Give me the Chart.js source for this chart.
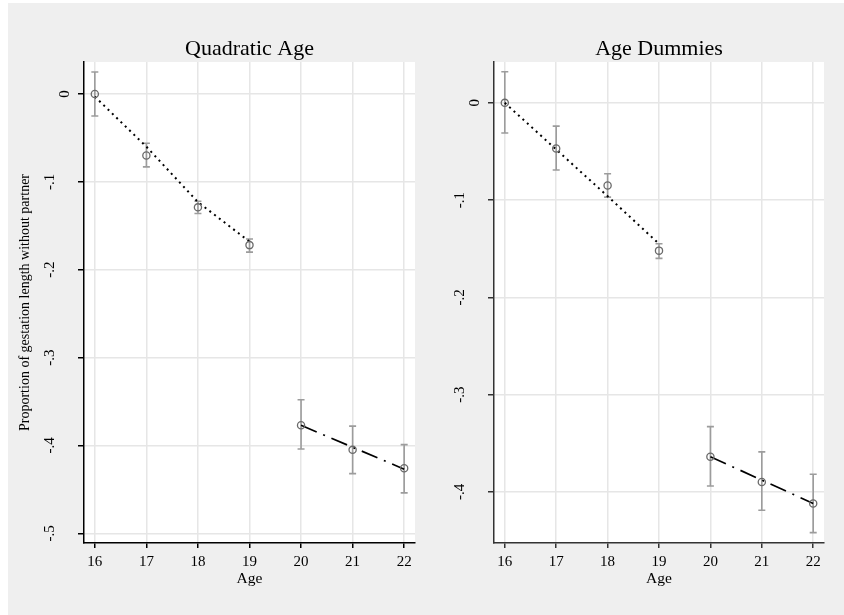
<!DOCTYPE html>
<html>
<head>
<meta charset="utf-8">
<script src="https://cdn.jsdelivr.net/npm/chart.js@4.4.1/dist/chart.umd.min.js"></script>
<style>
  html, body { margin: 0; padding: 0; background: #fff; }
  #frame { position: absolute; left: 8px; top: 3px; width: 836px; height: 612px; background: #efefef; }
  canvas { position: absolute; top: 0; }
  #left { left: 0; }
  #right { left: 414px; }
</style>
</head>
<body>
<div id="frame">
  <canvas id="left" width="414" height="612"></canvas>
  <canvas id="right" width="422" height="612"></canvas>
</div>
<script>
// 年齡 (x 軸)
const ages = [16, 17, 18, 19, 20, 21, 22];
const agesBefore = [16, 17, 18, 19];
const agesAfter = [20, 21, 22];

// Quadratic Age: 估計值與信賴區間
const quadEst = [0, -0.070, -0.129, -0.172, -0.377, -0.405, -0.426];
const quadLo = [-0.025, -0.083, -0.136, -0.180, -0.404, -0.432, -0.454];
const quadHi = [0.025, -0.056, -0.122, -0.165, -0.348, -0.378, -0.399];
const quadFitBefore = [-0.003, -0.060, -0.123, -0.168];
const quadFitAfter = [-0.377, -0.402, -0.427];

// Age Dummies
const dumEst = [0, -0.047, -0.085, -0.152, -0.364, -0.390, -0.412];
const dumLo = [-0.031, -0.069, -0.097, -0.160, -0.394, -0.419, -0.442];
const dumHi = [0.032, -0.024, -0.073, -0.145, -0.333, -0.359, -0.382];
const dumFitBefore = [0, -0.048, -0.096, -0.145];
const dumFitAfter = [-0.364, -0.388, -0.412];

// 刻度
const quadYTicks = [0, -0.1, -0.2, -0.3, -0.4, -0.5];
const quadYLabels = ['0', '-.1', '-.2', '-.3', '-.4', '-.5'];
const dumYTicks = [0, -0.1, -0.2, -0.3, -0.4];
const dumYLabels = ['0', '-.1', '-.2', '-.3', '-.4'];
const xTicks = [16, 17, 18, 19, 20, 21, 22];

const FONT = "'Liberation Serif', 'Times New Roman', serif";

const toPoints = (xs, ys) => xs.map((x, i) => ({ x: x, y: ys[i] }));

// 誤差線
function makeErrorBars(lo, hi) {
    return {
        id: 'errorBars',
        beforeDatasetsDraw(chart) {
            const ctx = chart.ctx;
            const xs = chart.scales.x, ys = chart.scales.y;
            ctx.save();
            ctx.strokeStyle = '#9c9c9c';
            ctx.lineWidth = 1.6;
            lo.forEach((l, i) => {
                const px = xs.getPixelForValue(ages[i]);
                const y1 = ys.getPixelForValue(l);
                const y2 = ys.getPixelForValue(hi[i]);
                ctx.beginPath();
                ctx.moveTo(px, y1); ctx.lineTo(px, y2);
                ctx.moveTo(px - 3.5, y1); ctx.lineTo(px + 3.5, y1);
                ctx.moveTo(px - 3.5, y2); ctx.lineTo(px + 3.5, y2);
                ctx.stroke();
            });
            ctx.restore();
        }
    };
}

// 白色繪圖區、直立的 y 軸刻度文字、面板標題
function makeDecor(title, yTicks, yLabels) {
    return {
        id: 'decor',
        beforeDraw(chart) {
            const a = chart.chartArea;
            chart.ctx.save();
            chart.ctx.fillStyle = '#fff';
            chart.ctx.fillRect(a.left, a.top, a.right - a.left, a.bottom - a.top);
            chart.ctx.restore();
        },
        afterDraw(chart) {
            const ctx = chart.ctx;
            const area = chart.chartArea;
            const ys = chart.scales.y;
            ctx.save();
            ctx.fillStyle = '#000';
            ctx.font = '15px ' + FONT;
            ctx.textAlign = 'center';
            ctx.textBaseline = 'middle';
            yTicks.forEach((v, i) => {
                const x = area.left - (yLabels[i] === '0' ? 19 : 34);
                ctx.save();
                ctx.translate(x, ys.getPixelForValue(v));
                ctx.rotate(-Math.PI / 2);
                ctx.fillText(yLabels[i], 0, 0);
                ctx.restore();
            });
            ctx.font = '22px ' + FONT;
            ctx.textBaseline = 'alphabetic';
            ctx.fillText(title, (area.left + area.right) / 2, 52);
            ctx.restore();
        }
    };
}

function makePanel(id, p) {
    const ctx = document.getElementById(id);
    return new Chart(ctx.getContext('2d'), {
        type: 'scatter',
        data: {
            datasets: [
                {
                    data: toPoints(ages, p.est),
                    showLine: false,
                    pointRadius: 3.6,
                    pointBorderWidth: 1.3,
                    pointBorderColor: '#6a6a6a',
                    pointBackgroundColor: 'rgba(0,0,0,0)',
                    order: 0
                },
                {
                    data: toPoints(agesBefore, p.fitBefore),
                    showLine: true,
                    pointRadius: 0,
                    borderColor: '#000',
                    borderWidth: 2,
                    borderDash: [2, 4],
                    order: 1
                },
                {
                    data: toPoints(agesAfter, p.fitAfter),
                    showLine: true,
                    pointRadius: 0,
                    borderColor: '#000',
                    borderWidth: 1.7,
                    borderDash: [17, 7, 2, 7],
                    order: 1
                }
            ]
        },
        options: {
            responsive: false,
            animation: false,
            events: [],
            layout: { padding: { left: 0, top: 59, right: p.padRight, bottom: 0 } },
            plugins: { legend: { display: false }, tooltip: { enabled: false } },
            scales: {
                x: {
                    type: 'linear',
                    min: 15.79,
                    max: 22.21,
                    afterBuildTicks: s => { s.ticks = xTicks.map(v => ({ value: v })); },
                    afterFit: s => { s.height = 72; },
                    ticks: {
                        padding: 5,
                        color: '#000',
                        font: { family: FONT, size: 15 },
                        callback: v => String(v)
                    },
                    grid: { color: '#e6e6e6', lineWidth: 1.5, tickColor: p.axisColor, tickWidth: 1.5, tickLength: 5 },
                    border: { color: p.axisColor, width: 1.5 },
                    title: {
                        display: true,
                        text: 'Age',
                        color: '#000',
                        font: { family: FONT, size: 15.5 },
                        padding: { top: 0, bottom: 27 }
                    }
                },
                y: {
                    type: 'linear',
                    min: p.yMin,
                    max: p.yMax,
                    afterBuildTicks: s => { s.ticks = p.yTicks.map(v => ({ value: v })); },
                    afterFit: s => { s.width = p.yWidth; },
                    ticks: { display: false },
                    grid: { color: '#e6e6e6', lineWidth: 1.5, tickColor: p.axisColor, tickWidth: 1.5, tickLength: 6 },
                    border: { color: p.axisColor, width: 1.5 },
                    title: {
                        display: !!p.yTitle,
                        text: p.yTitle || '',
                        color: '#000',
                        font: { family: FONT, size: 14 },
                        padding: { top: 9, bottom: 0 }
                    }
                }
            }
        },
        plugins: [makeErrorBars(p.lo, p.hi), makeDecor(p.title, p.yTicks, p.yLabels)]
    });
}

makePanel('left', {
    title: 'Quadratic Age',
    est: quadEst, lo: quadLo, hi: quadHi,
    fitBefore: quadFitBefore, fitAfter: quadFitAfter,
    yMin: -0.511, yMax: 0.0364,
    yTicks: quadYTicks, yLabels: quadYLabels,
    yTitle: 'Proportion of gestation length without partner',
    yWidth: 76, padRight: 7, axisColor: '#000'
});

makePanel('right', {
    title: 'Age Dummies',
    est: dumEst, lo: dumLo, hi: dumHi,
    fitBefore: dumFitBefore, fitAfter: dumFitAfter,
    yMin: -0.4527, yMax: 0.042,
    yTicks: dumYTicks, yLabels: dumYLabels,
    yTitle: null,
    yWidth: 72, padRight: 20, axisColor: '#333'
});
</script>
</body>
</html>
